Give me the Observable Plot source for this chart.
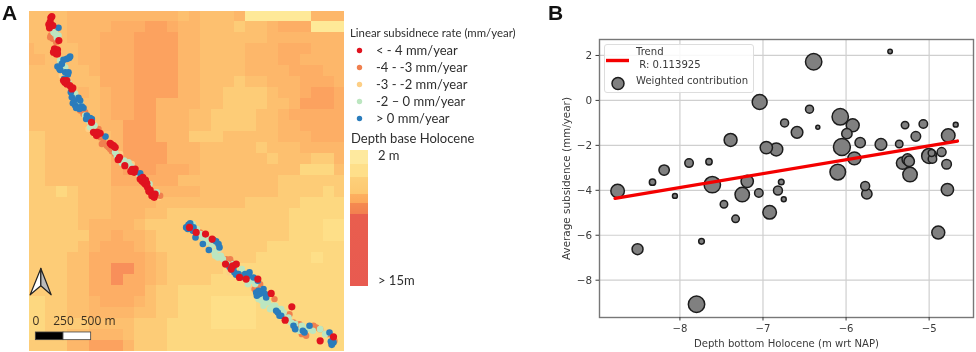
<!DOCTYPE html>
<html>
<head>
<meta charset="utf-8">
<script src="https://cdn.jsdelivr.net/npm/d3@7"></script>
<script src="https://cdn.jsdelivr.net/npm/@observablehq/plot@0.6"></script>
<style>
html,body{margin:0;padding:0;background:#fff;}
#page{position:relative;width:976px;height:352px;overflow:hidden;filter:blur(0.4px);}
#page>*{position:absolute;}
.t{position:absolute;white-space:pre;line-height:1;}
.lato{font-family:Lato,sans-serif;color:#2e2e2e;}
.dj{font-family:"DejaVu Sans",sans-serif;color:#3a3a3a;font-size:10.1px;}
.letter{font-family:"Liberation Sans",sans-serif;font-weight:bold;font-size:21px;color:#111;}
</style>
</head>
<body>
<div id="page"></div>
<script>
// ---------- Panel A data: depth base Holocene raster (class per 100 m cell) ----------
const depthRows = [
"44445555555555454445000000555",
"44445555666776554443445666000",
"44445556667777554444445555555",
"54444556667777554444555666555",
"55444556667777554444555665555",
"44444456667777554444555566655",
"44444446667777554443445556665",
"44444545667777554433334556776",
"44444445667755554433334457776",
"44444445667755544333344566666",
"44444445577755544333344556666",
"33444444577755533344444555666",
"33444444577775554444434445555",
"33444444677775554444443444335",
"33444444677766654444444442224",
"33444444666666444444444333333",
"33323444555555554444444333323",
"33333444555544444444333332222",
"33333444555443333333333322222",
"33333455554333333333333322211",
"33333355655433333333333322211",
"33333456665433333333332222222",
"33334466666543333333322222122",
"33334466886543333322222222222",
"33334466866543333222222222222",
"33334466666433222222222222222",
"22334456665433222111122222222",
"22334455554433222111122222222",
"22333344443332222111122222222",
"22334455543332222222222222222",
"33335577753332222222222222222"
];
const depthLevels = [0,1,2,3,4,5,6,7,8];
const depthColors = ["#fee998","#fedf88","#fdd880","#fdcc77","#fdc06f","#fdb76a","#fdae65","#fca25f","#f88f5a"];

// Panel A: persistent scatterers by class, in map units (100 m = 33.3 units)
const redPts = [[152,52],[155,48],[150,65],[146,72],[148,82],[158,75],[176,120],[165,150],[170,155],[168,160],[163,145],[172,148],[160,155],[172,160],[194,245],[200,250],[190,240],[200,240],[209,255],[215,265],[218,262],[274,365],[289,405],[285,397],[300,398],[292,395],[280,395],[330,428],[334,432],[340,435],[345,440],[354,477],[358,470],[374,495],[399,512],[402,515],[396,506],[405,505],[392,512],[420,535],[425,540],[428,530],[430,545],[435,550],[440,548],[442,560],[450,568],[458,580],[462,590],[436,538],[446,572],[455,585],[465,580],
 [636,715],[616,700],[588,695],[568,680],[676,790],[698,795],[708,790],[693,805],[718,830],[738,835],[773,835],[813,878],[875,918],[855,958],[960,1020],[1000,1008]];
const bluePts = [[175,82],[207,172],[210,168],[200,175],[190,178],[185,190],[172,198],[178,205],[180,208],[195,215],[205,215],[203,222],[192,235],[212,275],[215,290],[222,300],[235,292],[240,300],[218,308],[225,315],[232,320],[228,322],[245,318],[250,322],[238,325],[260,345],[258,355],[270,352],[275,355],[316,408],[420,518],
 [570,668],[563,685],[558,680],[565,672],[572,680],[580,680],[578,690],[586,710],[640,718],[648,722],[655,730],[658,740],[626,748],[608,730],[688,798],[700,800],[696,808],[703,815],[708,822],[715,820],[733,830],[735,820],[745,825],[748,815],[760,830],[773,840],[768,875],[775,870],[778,880],[785,875],[770,885],[790,865],[795,880],[798,890],[828,930],[833,935],[838,945],[843,945],[880,975],[885,985],[908,990],[913,995],[928,975],[988,995],[992,1022],[995,1032],[998,1020],[1000,1025]];
const greenPts = [[160,95],[165,100],[175,105],[170,112],[180,180],[183,185],[188,195],[195,200],[205,245],[212,260],[218,270],[225,280],[235,298],[225,300],[240,305],[255,345],[265,360],[272,368],[283,375],[270,380],[345,455],[350,465],[372,480],[365,487],[385,485],[378,490],[392,497],[398,502],[415,520],[448,550],[470,575],
 [578,670],[590,685],[600,700],[608,710],[625,715],[618,725],[635,735],[655,745],[643,755],[645,765],[653,770],[662,765],[668,775],[680,790],[700,790],[688,800],[725,805],[755,840],[743,850],[765,850],[783,890],[775,895],[785,900],[793,905],[803,905],[790,915],[818,915],[825,915],[810,925],[833,925],[843,925],[850,935],[865,950],[858,955],[873,965],[885,970],[905,975],[920,985],[960,985],[898,990],[938,990],[975,1000]];
const orangePts = [[152,105],[150,110],[158,115],[172,120],[168,125],[240,330],[250,340],[255,335],[295,385],[300,410],[310,425],[305,430],[320,435],[325,440],[330,445],[340,450],[335,452],[345,460],[420,525],[445,555],[480,585],
 [600,695],[613,705],[678,775],[690,775],[693,785],[710,790],[725,810],[728,825],[745,840],[763,865],[770,860],[780,850],[823,895],[868,940],[880,965],[898,970],[905,980],[905,1000],[948,980],[940,975],[960,985],[985,1000],[918,1005],[993,1030],[998,1010],[1003,1020]];
const ltOrangePts = [[185,225],[265,385],[280,370],[360,460],[395,490],[430,530],[475,590],
 [588,705],[658,750],[688,815],[758,860],[863,950],[978,995]];

const northLeft = [[90,882],[122,803],[122,855]];
const northRight = [[122,803],[153,882],[122,855]];
const scaleBarStops = [107,190,273];
const scaleBarLabels = ["0","250","500 m"];

const rateLabels = ["< - 4 mm/year","-4 - -3 mm/year","-3 - -2 mm/year","-2 \u2013 0 mm/year","> 0 mm/year"];
const rateColors = ["#e0131f","#f0804f","#fdcf86","#bce6c0","#2a7cbc"];

// ---------- Panel B data ----------
const depthBottom = [-8.75,-8.51,-8.33,-8.19,-8.06,-7.89,-7.80,-7.65,-7.74,-7.61,-7.47,-7.39,-7.33,-7.25,-7.19,-7.05,-7.04,-6.39,-5.47,-6.44,-6.74,-6.59,-6.34,-6.07,-5.92,-5.99,-6.05,-5.83,-5.58,-5.36,-5.29,-5.07,-5.16,-4.68,-4.77,-6.96,-6.84,-5.90,-6.10,-6.78,-6.82,-6.75,-6.92,-5.77,-5.75,-5.32,-5.26,-5.24,-5.23,-5.00,-4.96,-4.97,-4.85,-4.79,-4.78,-4.89];
const avgSubsidence = [-4.03,-6.62,-3.64,-3.10,-4.25,-2.79,-9.07,-2.73,-6.27,-3.75,-4.62,-1.76,-5.27,-4.19,-3.60,-4.12,-0.07,1.72,2.18,-0.39,-1.00,-1.42,-1.20,-0.73,-1.11,-1.48,-2.07,-1.88,-1.96,-1.94,-1.10,-1.05,-1.60,-1.08,-1.56,-2.10,-2.18,-2.58,-3.19,-3.63,-4.01,-4.40,-4.98,-3.81,-4.16,-2.79,-2.62,-2.71,-3.30,-2.47,-2.61,-2.34,-2.30,-2.84,-3.97,-5.88];
const contribution = [46,30,10,27,6,18,67,10,8,67,14,42,14,52,38,18,56,67,5,16,16,34,4,67,42,27,72,27,34,14,14,18,23,6,46,38,42,42,61,8,20,6,46,20,27,38,30,27,52,56,18,12,20,23,38,42];
const trendX = [-8.78,-4.66];
const trendY = [-4.36,-1.81];
const xTicks = [-8,-7,-6,-5];
const yTicks = [2,0,-2,-4,-6,-8];

// ---------- Panel A ----------
const page = document.getElementById("page");
const colStart = c => 102 + (c-1)*33.33;
const rowStart = r => 62 + (r-1)*33;
const cells = depthRows.flatMap((row,r)=>[...row.padEnd(29,row[row.length-1])].map((ch,c)=>({
  x1: colStart(c), x2: colStart(c+1), y1: rowStart(r), y2: rowStart(r+1), level:+ch
})));
const toObj = ([x,y])=>({x,y});
const dotsOf = (pts,fill,r)=>Plot.dot(pts.map(toObj),{x:"x",y:"y",r,fill,stroke:"none"});
const barCells = [{x1:scaleBarStops[0],x2:scaleBarStops[1],f:"#000"},{x1:scaleBarStops[1],x2:scaleBarStops[2],f:"#fff"}];

const mapPlot = Plot.plot({
  width:315,height:340,margin:0,
  x:{domain:[88,1033],axis:null},
  y:{domain:[1052,33],axis:null},
  color:{type:"ordinal",domain:depthLevels,range:depthColors},
  style:{background:"transparent",overflow:"hidden"},
  marks:[
    Plot.rect(cells,{x1:"x1",x2:"x2",y1:"y1",y2:"y2",fill:"level",shapeRendering:"crispEdges",clip:true}),
    dotsOf(ltOrangePts,rateColors[2],3.2),
    dotsOf(orangePts,rateColors[1],3.2),
    dotsOf(greenPts,rateColors[3],3.3),
    dotsOf(bluePts,rateColors[4],3.3),
    dotsOf(redPts,rateColors[0],3.6),
    Plot.line(northLeft,{x:d=>d[0],y:d=>d[1],z:null,fill:"#fff",stroke:"#222",strokeWidth:1.2,curve:"linear-closed"}),
    Plot.line(northRight,{x:d=>d[0],y:d=>d[1],z:null,fill:"#bbb",stroke:"#222",strokeWidth:1.2,curve:"linear-closed"}),
    Plot.rect(barCells,{x1:"x1",x2:"x2",y1:()=>995,y2:()=>1018,fill:d=>d.f,stroke:"#444",strokeWidth:0.8}),
    Plot.text(scaleBarLabels,{x:(d,i)=>[107,190,294][i],y:()=>960,text:d=>d,fill:"#3b3020",fontSize:12,fontFamily:"Open Sans"})
  ]
});
mapPlot.style.left="29px";mapPlot.style.top="11px";mapPlot.style.filter="blur(0.5px)";
page.appendChild(mapPlot);

function addText(txt,x,cy,cls,size){
  const d=document.createElement("div");
  d.className="t "+cls;d.textContent=txt;
  d.style.left=x+"px";d.style.top=(cy-(size||10)/2)+"px";
  if(size)d.style.fontSize=size+"px";
  page.appendChild(d);return d;
}
addText("A",2,12,"letter",21);
addText("B",548,12,"letter",21);
addText("Linear subsidnece rate (mm/year)",350,33,"lato",11.4);
const rowYs=[50,67,84,101,118];
rateLabels.forEach((l,i)=>addText(l,376,rowYs[i],"lato",13));
const legendDots = Plot.plot({
  width:12,height:90,margin:0,
  x:{domain:[0,1],axis:null},y:{domain:[0,4],range:[5,73],axis:null},
  marks:[Plot.dot(rateColors,{x:()=>0.5,y:(d,i)=>i,r:2.7,fill:d=>d})]
});
legendDots.style.left="353px";legendDots.style.top="45px";
page.appendChild(legendDots);
addText("Depth base Holocene",351,138,"lato",13);
const rampStops=[["#fee99e",0],["#fee99e",.1],["#fedf8a",.1],["#fedf8a",.2],["#fdd07a",.2],["#fdc870",.32],["#fdb060",.32],["#fca85a",.39],["#f58a50",.39],["#f28050",.47],["#e95e4e",.47],["#e85a50",1]];
const ramp=document.createElement("div");
ramp.style.cssText="left:350px;top:150px;width:18px;height:136px;background:linear-gradient(to bottom,"+rampStops.map(([c,p])=>c+" "+(p*100)+"%").join(",")+");";
page.appendChild(ramp);
addText("2 m",378,155,"lato",13);
addText("> 15m",378,280,"lato",13);

// ---------- Panel B ----------
const pts = depthBottom.map((x,i)=>({x,y:avgSubsidence[i],w:contribution[i]}));
const trend = trendX.map((x,i)=>({x,y:trendY[i]}));
const chart = Plot.plot({
  width:436,height:352,
  marginLeft:59,marginRight:3,marginTop:39,marginBottom:35,
  x:{domain:[-8.968,-4.466]},
  y:{domain:[-9.66,2.71]},
  r:{domain:[0,100],range:[0,10]},
  style:{background:"transparent",fontFamily:"DejaVu Sans",fontSize:"10.4px",color:"#3a3a3a",overflow:"visible"},
  marks:[
    Plot.gridX(xTicks,{stroke:"#cfcfcf",strokeOpacity:1,strokeWidth:1.2}),
    Plot.gridY(yTicks,{stroke:"#cfcfcf",strokeOpacity:1,strokeWidth:1.2}),
    Plot.frame({stroke:"#777",strokeWidth:1.4}),
    Plot.axisX({ticks:xTicks,tickFormat:"d",tickSize:3.5,tickPadding:4,label:"Depth bottom Holocene (m wrt NAP)",labelArrow:"none",labelAnchor:"center",labelOffset:29,fontSize:10.1}),
    Plot.axisY({ticks:yTicks,tickFormat:"d",tickSize:3.5,tickPadding:4,label:"Average subsidence (mm/year)",labelArrow:"none",labelAnchor:"center",labelOffset:37}),
    Plot.dot(pts,{x:"x",y:"y",r:"w",fill:"#808080",stroke:"#1c1c1c",strokeWidth:1.5}),
    Plot.line(trend,{x:"x",y:"y",stroke:"#f40000",strokeWidth:3.4})
  ]
});
chart.style.left="540px";chart.style.top="0px";
page.appendChild(chart);

// legend of panel B
const box=document.createElement("div");
box.style.cssText="left:604px;top:44px;width:148px;height:47px;background:rgba(255,255,255,.85);border:1px solid #ddd;border-radius:3px;";
page.appendChild(box);
const legKey = Plot.plot({
  width:30,height:36,margin:0,
  x:{domain:[0,30],axis:null},y:{domain:[36,0],axis:null},
  marks:[
    Plot.ruleY([4],{x1:()=>2,x2:()=>25,stroke:"#f40000",strokeWidth:3.4}),
    Plot.dot([0],{x:()=>13.5,y:()=>27,r:6,fill:"#808080",stroke:"#1c1c1c",strokeWidth:1.5})
  ]
});
legKey.style.left="604px";legKey.style.top="56px";
page.appendChild(legKey);
addText("Trend",636,52,"dj");
addText(" R: 0.113925",636,65,"dj");
addText("Weighted contribution",636,81,"dj");
</script>
</body>
</html>
